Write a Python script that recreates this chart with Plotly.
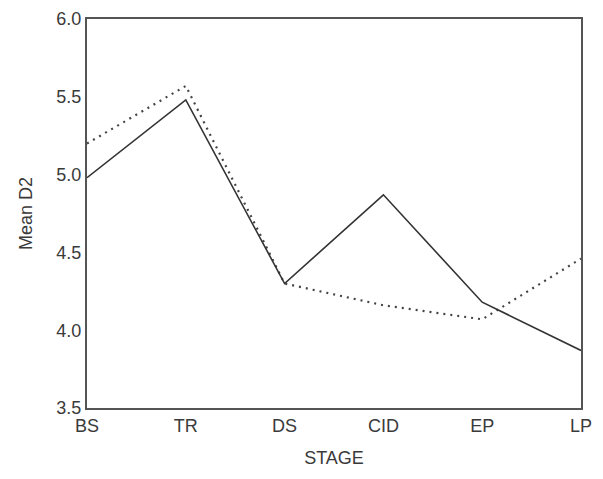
import plotly.graph_objects as go

stages = ["BS", "TR", "DS", "CID", "EP", "LP"]
solid_vals = [4.98, 5.48, 4.30, 4.87, 4.18, 3.87]
dotted_vals = [5.20, 5.57, 4.30, 4.16, 4.07, 4.46]
y_ticks = [3.5, 4.0, 4.5, 5.0, 5.5, 6.0]
y_tick_text = ["3.5", "4.0", "4.5", "5.0", "5.5", "6.0"]

fig = go.Figure()
fig.add_trace(go.Scatter(x=stages, y=dotted_vals, mode="lines",
                         line=dict(color="#444444", width=2.2, dash="2px,5px"),
                         showlegend=False, cliponaxis=False))
fig.add_trace(go.Scatter(x=stages, y=solid_vals, mode="lines",
                         line=dict(color="#333333", width=1.6),
                         showlegend=False, cliponaxis=False))

font_family = "Liberation Sans, Arial, sans-serif"
fig.update_layout(
    width=594, height=460,
    margin=dict(l=79, r=21, t=11, b=60),
    paper_bgcolor="white", plot_bgcolor="white",
    font=dict(family=font_family, color="#3a3a3a", size=18),
    xaxis=dict(
        range=[0, 5], showgrid=False, zeroline=False, automargin=False,
        showline=True, mirror=True, linecolor="#555555", linewidth=2,
        ticks="", tickfont=dict(size=18),
        title=dict(text="STAGE", font=dict(size=18), standoff=34),
    ),
    yaxis=dict(
        range=[3.5, 6.0], tickvals=y_ticks, ticktext=y_tick_text,
        showgrid=False, zeroline=False, automargin=False,
        showline=True, mirror=True, linecolor="#555555", linewidth=2,
        ticks="", tickfont=dict(size=18),
        title=dict(text="Mean D2", font=dict(size=18), standoff=19),
    ),
)

fig.write_html("out.html")
